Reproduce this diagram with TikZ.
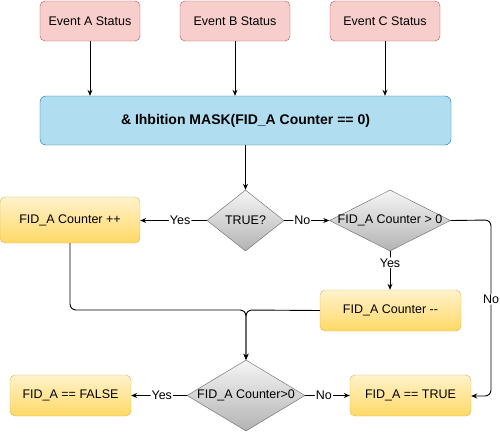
\documentclass[tikz,border=0pt]{standalone}
\usepackage{fontspec}
\setmainfont{Liberation Sans}
\usetikzlibrary{shapes.geometric,arrows.meta}
\definecolor{evfill}{HTML}{F8CECC}
\definecolor{evline}{HTML}{B85450}
\definecolor{mkfill}{HTML}{B1DDF0}
\definecolor{mkline}{HTML}{10739E}
\definecolor{ortop}{HTML}{FFF2CC}
\definecolor{orbot}{HTML}{FFD966}
\definecolor{orline}{HTML}{D6B656}
\definecolor{dmtop}{HTML}{F5F5F5}
\definecolor{dmbot}{HTML}{B3B3B3}
\definecolor{dmline}{HTML}{666666}
\tikzset{
  evbox/.style={draw=evline, fill=evfill, rounded corners=5pt, inner sep=0pt, font=\fontsize{12.5}{14}\selectfont},
  mkbox/.style={draw=mkline, fill=mkfill, rounded corners=6pt, inner sep=0pt, font=\fontsize{14}{16}\selectfont\bfseries},
  orbox/.style={draw=orline, top color=ortop, bottom color=orbot, rounded corners=5pt, inner sep=0pt, font=\fontsize{12.5}{14}\selectfont},
  dmnode/.style={diamond, draw=dmline, top color=dmtop, bottom color=dmbot, inner sep=0pt, font=\fontsize{12.5}{14}\selectfont},
  conn/.style={draw=black, line width=0.9pt, -{Stealth[length=6pt,width=5pt]}, rounded corners=6pt},
  lbl/.style={fill=white, inner sep=1pt, font=\fontsize{12.5}{14}\selectfont}
}
\begin{document}
\begin{tikzpicture}[x=1pt,y=-1pt]
\useasboundingbox (0,0) rectangle (500,431);
\node[evbox, minimum width=100pt, minimum height=40pt] (ea) at (90,21) {Event A Status};
\node[evbox, minimum width=110pt, minimum height=40pt] (eb) at (235,21) {Event B Status};
\node[evbox, minimum width=110pt, minimum height=40pt] (ec) at (385,21) {Event C Status};
\node[mkbox, minimum width=411pt, minimum height=49pt] (mask) at (245.5,120.5) {\& Ihbition MASK(FID\_A Counter == 0)};
\node[dmnode, minimum width=77pt, minimum height=61pt] (tr) at (245.5,220.5) {\makebox[0pt]{TRUE?}};
\node[orbox, minimum width=140pt, minimum height=46pt] (inc) at (70,220) {FID\_A Counter ++};
\node[dmnode, minimum width=121pt, minimum height=61pt] (gt) at (390,220.5) {\makebox[0pt]{FID\_A Counter > 0}};
\node[orbox, minimum width=141pt, minimum height=41pt] (dec) at (390.5,310.5) {FID\_A Counter -{}-};
\node[dmnode, minimum width=118pt, minimum height=71pt] (bt) at (246,395.5) {\makebox[0pt]{FID\_A Counter>0}};
\node[orbox, minimum width=121pt, minimum height=41pt] (fls) at (70.5,395.5) {FID\_A == FALSE};
\node[orbox, minimum width=121pt, minimum height=41pt] (tru) at (410.5,395.5) {FID\_A == TRUE};
\coordinate (merge) at (246,310);
\coordinate (rc) at (491,220);
\coordinate (rb) at (491,396);
\draw[conn] (ea.south) -- (ea.south |- mask.north);
\draw[conn] (eb.south) -- (eb.south |- mask.north);
\draw[conn] (ec.south) -- (ec.south |- mask.north);
\draw[conn] (mask.south -| tr.north) -- (tr.north);
\draw[conn] (tr.west) -- node[lbl, pos=0.4] (ly1) {Yes} (tr.west -| inc.east);
\draw[conn] (tr.east) -- node[lbl, pos=0.4] (ln1) {No} (gt.west);
\draw[conn] (gt.south) -- node[lbl, pos=0.3] (ly2) {Yes} (dec.north -| gt.south);
\draw[conn] (gt.east) -- (rc) -- node[lbl, pos=0.45] (ln2) {No} (rb) -- (tru.east |- rb);
\draw[conn] (inc.south) -- (inc.south |- merge) -- (merge) -- (bt.north);
\draw[conn] (dec.west) -- (merge) -- (bt.north);
\draw[conn] (bt.west) -- node[lbl, pos=0.45] (ly3) {Yes} (fls.east);
\draw[conn] (bt.east) -- node[lbl, pos=0.42] (ln3) {No} (tru.west);
\end{tikzpicture}
\end{document}
